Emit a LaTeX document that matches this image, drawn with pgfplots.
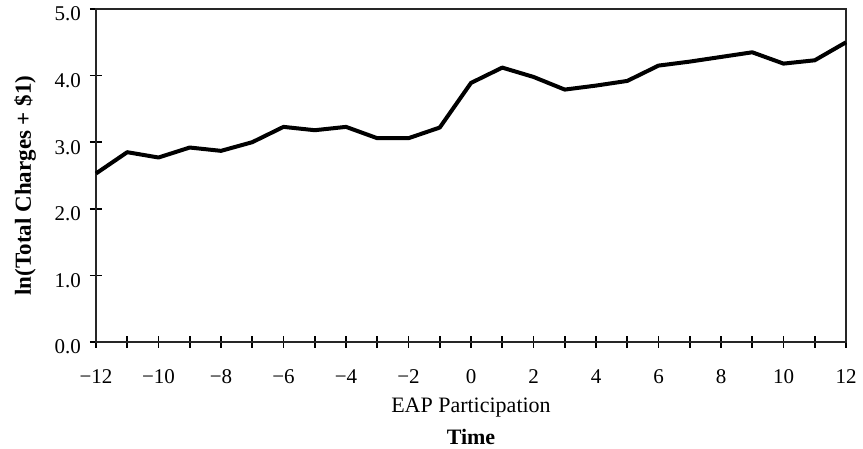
\documentclass[border=0pt]{standalone}
\usepackage{fontspec}
\setmainfont{Liberation Serif}
\usepackage{pgfplots}
\pgfplotsset{compat=1.18}
\begin{document}
\begin{tikzpicture}
\begin{axis}[
  name=ax,
  scale only axis,
  width=375pt, height=166.5pt,
  xmin=-12, xmax=12, ymin=0, ymax=5,
  xtick={-12,-10,...,12},
  xticklabels={−12,−10,−8,−6,−4,−2,0,2,4,6,8,10,12},
  minor x tick num=1,
  ytick={0,1,2,3,4,5},
  yticklabels={0.0,1.0,2.0,3.0,4.0,5.0},
  xtick pos=bottom, ytick pos=left,
  tick align=center,
  major tick length=6pt, minor tick length=6pt,
  every tick/.style={black, line width=0.8pt},
  axis line style={line width=1pt, black!85},
  ticklabel style={font=\fontsize{10.5}{12}\selectfont},
  xticklabel style={text height=7pt, text depth=0pt, yshift=-7pt},
  yticklabel style={xshift=-1pt, yshift=-2.5pt},
  ylabel={\textbf{ln(Total Charges + \$1)}},
  ylabel style={font=\fontsize{11.5}{12}\selectfont, at={(axis description cs:-0.0947,0.47)}, anchor=center},
  xlabel={EAP Participation},
  xlabel style={font=\fontsize{11}{12}\selectfont, at={(axis description cs:0.5,-0.198)}, anchor=center},
  clip=false,
]
\addplot[black, line width=2pt, line join=round] coordinates {
(-12,2.53) (-11,2.85) (-10,2.77) (-9,2.92) (-8,2.87) (-7,3.00) (-6,3.23) (-5,3.18)
(-4,3.23) (-3,3.06) (-2,3.06) (-1,3.22) (0,3.89) (1,4.12) (2,3.98) (3,3.79)
(4,3.85) (5,3.92) (6,4.15) (7,4.21) (8,4.28) (9,4.35) (10,4.18) (11,4.23) (12,4.50)
};
\node[font=\fontsize{11}{12}\selectfont\bfseries, anchor=center] at (axis description cs:0.5,-0.285) {Time};
\end{axis}
\pgfresetboundingbox
\useasboundingbox ([xshift=-48pt,yshift=-53.5pt]ax.south west) rectangle ([xshift=8.5pt,yshift=4.5pt]ax.north east);
\end{tikzpicture}
\end{document}
